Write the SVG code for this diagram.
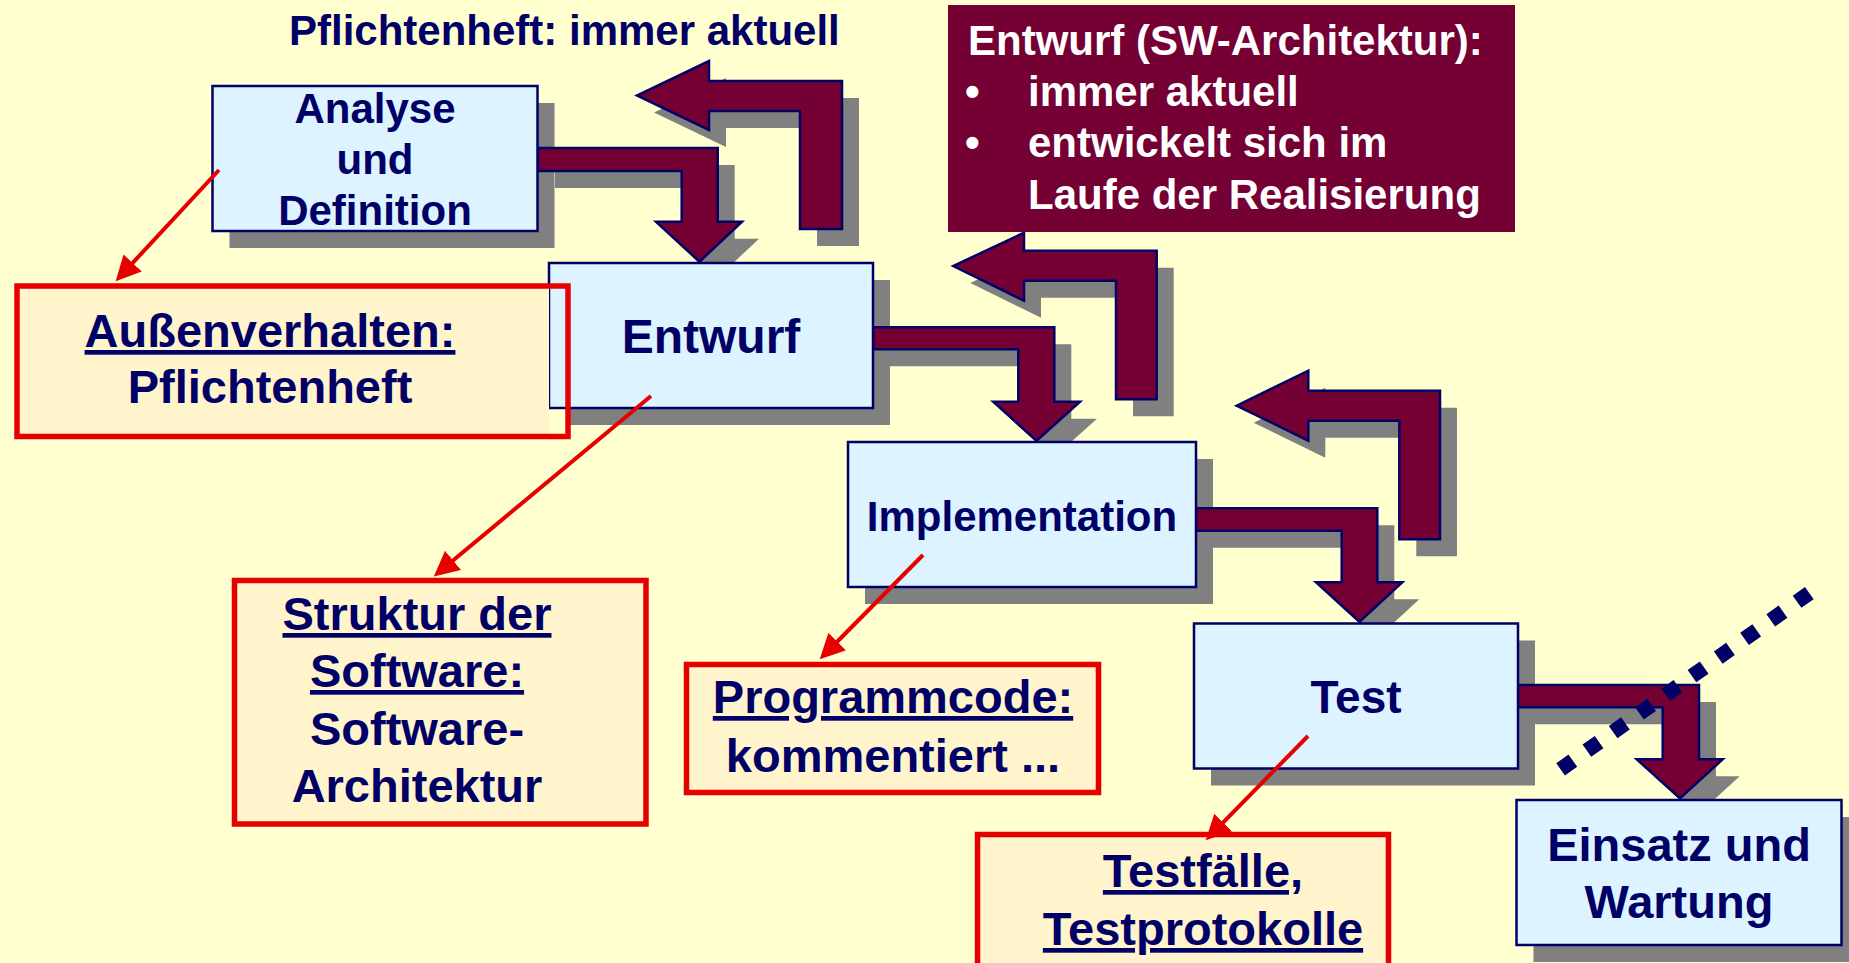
<svg xmlns="http://www.w3.org/2000/svg" width="1849" height="963" viewBox="0 0 1849 963">
  <defs>
    <style>
      text { font-family: 'Liberation Sans', Arial, sans-serif; font-weight: bold; }
      .nt { fill: #000066; text-anchor: middle; }
      .wt { fill: #ffffff; font-size: 42px; }
      .box { fill: #DDF3FF; stroke: #000066; stroke-width: 2.5; }
      .shadow { fill: #808080; }
      .big { fill: #750033; stroke: #000066; stroke-width: 2.5; stroke-linejoin: miter; }
      .rbox { fill: none; stroke: #E60000; stroke-width: 5.5; }
      .rfill { fill: #FFF4CC; }
      .ann { stroke: #E60000; stroke-width: 4; fill: none; }
      .ul { text-decoration: underline; }
    </style>
    <marker id="redhead" markerUnits="userSpaceOnUse" viewBox="0 -15 30 30" markerWidth="30" markerHeight="30" refX="2" refY="0" orient="auto">
      <path d="M0,-12.5 L25,0 L0,12.5 Z" fill="#E60000"/>
    </marker>
    <path id="a1" d="M538,148 H717.7 V221.7 H742 L699.5,261.7 L656,221.7 H681.7 V171 H538 Z"/>
    <path id="b1" d="M842,229 V81 H709 V61 L637,95.5 L709,130 V111 H800 V229 Z"/>
    <path id="a2" d="M873,327.3 H1054.3 V401.7 H1080 L1036.5,440.7 L993.3,401.7 H1018.3 V349.3 H873 Z"/>
    <path id="b2" d="M1156.7,399.3 V250.7 H1024 V232.7 L953.3,266 L1024,300.7 V280.7 H1116 V399.3 Z"/>
    <path id="a3" d="M1196,508.3 H1377.3 V582.3 H1402.3 L1359.5,621.7 L1316,582.3 H1341.7 V530.7 H1196 Z"/>
    <path id="b3" d="M1440,539.3 V390.7 H1308.3 V370.7 L1236.7,405.7 L1308.3,440.7 V420.7 H1399.3 V539.3 Z"/>
    <path id="a4" d="M1518,685 H1699 V759.3 H1722.7 L1680,798.3 L1636.7,759.3 H1662.7 V707.3 H1518 Z"/>
  </defs>

  <rect x="0" y="0" width="1849" height="963" fill="#FFFFD0"/>

  <g id="shadows" class="shadow">
    <rect x="229.5" y="103" width="325" height="145"/>
    <rect x="566" y="280" width="324" height="145"/>
    <rect x="865" y="459" width="348" height="145"/>
    <rect x="1211" y="640.5" width="324" height="145"/>
    <rect x="1533.5" y="817" width="325" height="145"/>
    <use href="#a1" transform="translate(17,17)"/>
    <use href="#b1" transform="translate(17,17)"/>
    <use href="#a2" transform="translate(17,17)"/>
    <use href="#b2" transform="translate(17,17)"/>
    <use href="#a3" transform="translate(17,17)"/>
    <use href="#b3" transform="translate(17,17)"/>
    <use href="#a4" transform="translate(17,17)"/>
  </g>

  <g id="connectors">
    <use href="#a1" class="big"/>
    <use href="#b1" class="big"/>
    <use href="#a2" class="big"/>
    <use href="#b2" class="big"/>
    <use href="#a3" class="big"/>
    <use href="#b3" class="big"/>
    <use href="#a4" class="big"/>
  </g>

  <g id="title">
    <text x="289" y="45" font-size="42" fill="#000066">Pflichtenheft: immer aktuell</text>
  </g>

  <g id="analyse">
    <rect class="box" x="212.5" y="86" width="325" height="145"/>
    <text class="nt" font-size="42" x="375" y="123">Analyse</text>
    <text class="nt" font-size="42" x="375" y="174">und</text>
    <text class="nt" font-size="42" x="375" y="225">Definition</text>
  </g>

  <g id="entwurf">
    <rect class="box" x="549" y="263" width="324" height="145"/>
    <text class="nt" font-size="48" x="711" y="353">Entwurf</text>
  </g>

  <g id="implementation">
    <rect class="box" x="848" y="442" width="348" height="145"/>
    <text class="nt" font-size="42" x="1022" y="531">Implementation</text>
  </g>

  <g id="test">
    <rect class="box" x="1194" y="623.5" width="324" height="145"/>
    <text class="nt" font-size="46" x="1356" y="713">Test</text>
  </g>

  <g id="einsatz">
    <rect class="box" x="1516.5" y="800" width="325" height="145"/>
    <text class="nt" font-size="47" x="1679" y="861">Einsatz und</text>
    <text class="nt" font-size="47" x="1679" y="918">Wartung</text>
  </g>

  <g id="architektur-note">
    <rect x="948" y="5" width="567" height="227" fill="#750033"/>
    <text class="wt" x="968" y="55">Entwurf (SW-Architektur):</text>
    <text class="wt" x="965" y="106">•</text>
    <text class="wt" x="1028" y="106">immer aktuell</text>
    <text class="wt" x="965" y="157">•</text>
    <text class="wt" x="1028" y="157">entwickelt sich im</text>
    <text class="wt" x="1028" y="209">Laufe der Realisierung</text>
  </g>

  <g id="aussenverhalten">
    <rect class="rfill" x="17" y="286" width="532" height="150.5"/>
    <rect class="rbox" x="17" y="286" width="551" height="150.5"/>
    <text class="nt ul" font-size="47" x="270" y="347">Außenverhalten:</text>
    <text class="nt" font-size="47" x="270" y="403">Pflichtenheft</text>
  </g>

  <g id="struktur">
    <rect class="rfill rbox" style="fill:#FFF4CC" x="234.5" y="580.5" width="411.5" height="243.5"/>
    <text class="nt ul" font-size="47" x="417" y="630">Struktur der</text>
    <text class="nt ul" font-size="47" x="417" y="687">Software:</text>
    <text class="nt" font-size="47" x="417" y="745">Software-</text>
    <text class="nt" font-size="47" x="417" y="802">Architektur</text>
  </g>

  <g id="programmcode">
    <rect class="rbox" style="fill:#FFF4CC" x="686.5" y="664.5" width="412" height="128"/>
    <text class="nt ul" font-size="47" x="893" y="713">Programmcode:</text>
    <text class="nt" font-size="47" x="893" y="772">kommentiert ...</text>
  </g>

  <g id="testfaelle">
    <rect class="rbox" style="fill:#FFF4CC" x="977.5" y="834.5" width="411" height="150"/>
    <text class="nt ul" font-size="47" x="1203" y="887">Testfälle,</text>
    <text class="nt ul" font-size="47" x="1203" y="945">Testprotokolle</text>
  </g>

  <g id="annotation-arrows">
    <line class="ann" x1="219" y1="170" x2="131.3" y2="264.4" marker-end="url(#redhead)"/>
    <line class="ann" x1="651" y1="396" x2="451.5" y2="561.7" marker-end="url(#redhead)"/>
    <line class="ann" x1="923" y1="555" x2="835.9" y2="643" marker-end="url(#redhead)"/>
    <line class="ann" x1="1308" y1="736" x2="1221.8" y2="823.9" marker-end="url(#redhead)"/>
  </g>

  <g id="cutoff-line">
    <line x1="1560.6" y1="769.3" x2="1809.4" y2="593" stroke="#000066" stroke-width="15" stroke-dasharray="15 17.2"/>
  </g>
</svg>
